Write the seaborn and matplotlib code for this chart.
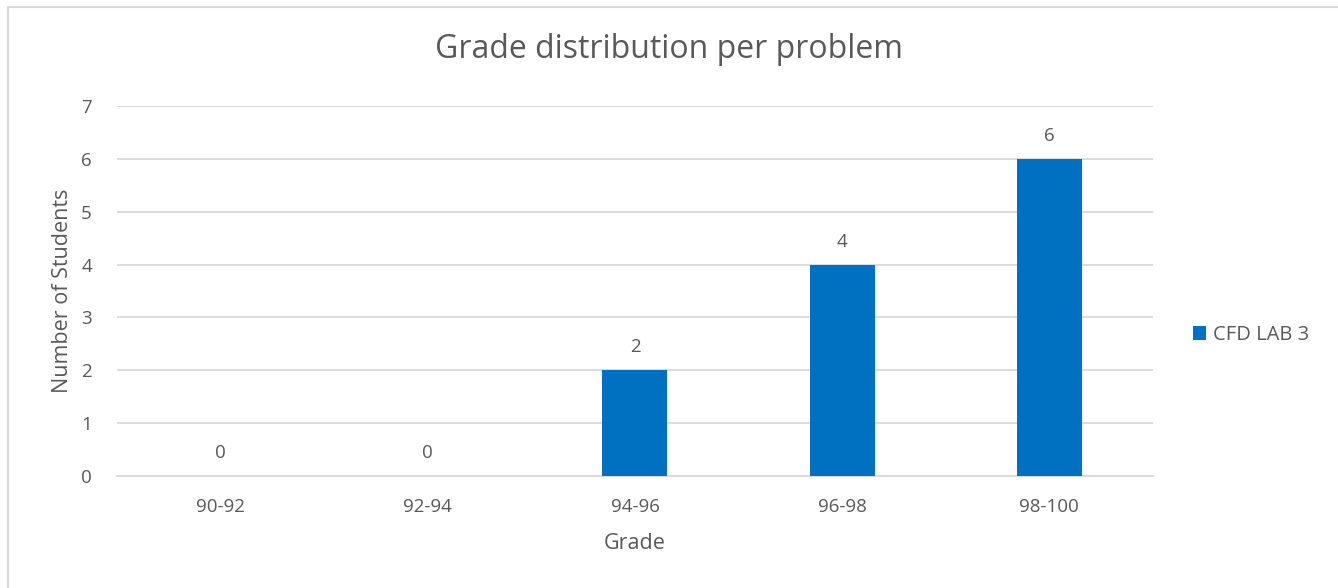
import matplotlib.pyplot as plt
import seaborn as sns
import pandas as pd
from matplotlib.lines import Line2D
from matplotlib.patches import Patch

# chart data
grades = ['90-92', '92-94', '94-96', '96-98', '98-100']
students = [0, 0, 2, 4, 6]
series_name = 'CFD LAB 3'

bar_color = '#0070C0'
text_color = '#595959'
grid_color = '#D9D9D9'

sns.set_theme(style='white')
plt.rcParams['font.family'] = ['Open Sans', 'DejaVu Sans']

df = pd.DataFrame({'Grade': grades, 'Students': students})

fig = plt.figure(figsize=(13.38, 5.88), dpi=100)
ax = fig.add_axes([0.0874, 0.1905, 0.7743, 0.6293])

sns.barplot(data=df, x='Grade', y='Students', color=bar_color,
            width=0.314, saturation=1, linewidth=0, ax=ax, zorder=3)

ax.set_ylim(0, 7)
ax.set_xlim(-0.5, len(grades) - 0.5)
ax.set_yticks(range(0, 8))
ax.yaxis.grid(True, color=grid_color, linewidth=1.3, zorder=0)
for s in ['top', 'right', 'left']:
    ax.spines[s].set_visible(False)
ax.spines['bottom'].set_color(grid_color)
ax.spines['bottom'].set_linewidth(1.3)
ax.tick_params(axis='both', length=0, labelsize=13.5, colors=text_color)
ax.tick_params(axis='x', pad=16)
ax.tick_params(axis='y', pad=18)

for i, v in enumerate(students):
    ax.annotate(str(v), (i, v), xytext=(0, 10), textcoords='offset points',
                ha='center', va='bottom', fontsize=13.5, color=text_color)

ax.set_xlabel('Grade', fontsize=15.5, color=text_color, labelpad=12)
ax.set_ylabel('Number of Students', fontsize=15.5, color=text_color, labelpad=6)
fig.text(0.5, 1 - 50 / 588, 'Grade distribution per problem', fontsize=23,
         color=text_color, ha='center', va='center')

handles = [Patch(facecolor=bar_color, edgecolor='none', label=series_name)]
fig.legend(handles=handles, loc='center left', bbox_to_anchor=(0.884, 1 - 335 / 588),
           frameon=False, fontsize=14.5, handlelength=0.65, handleheight=0.65,
           handletextpad=0.35, labelcolor=text_color, borderpad=0)

# chart frame (left and top edges visible in the crop)
fig.add_artist(Line2D([8 / 1338, 8 / 1338], [0, 1 - 7 / 588],
                      transform=fig.transFigure, color='#D9D9D9', linewidth=1.5))
fig.add_artist(Line2D([8 / 1338, 1], [1 - 7 / 588, 1 - 7 / 588],
                      transform=fig.transFigure, color='#D9D9D9', linewidth=1.5))

fig.savefig('out.png', dpi=100)
